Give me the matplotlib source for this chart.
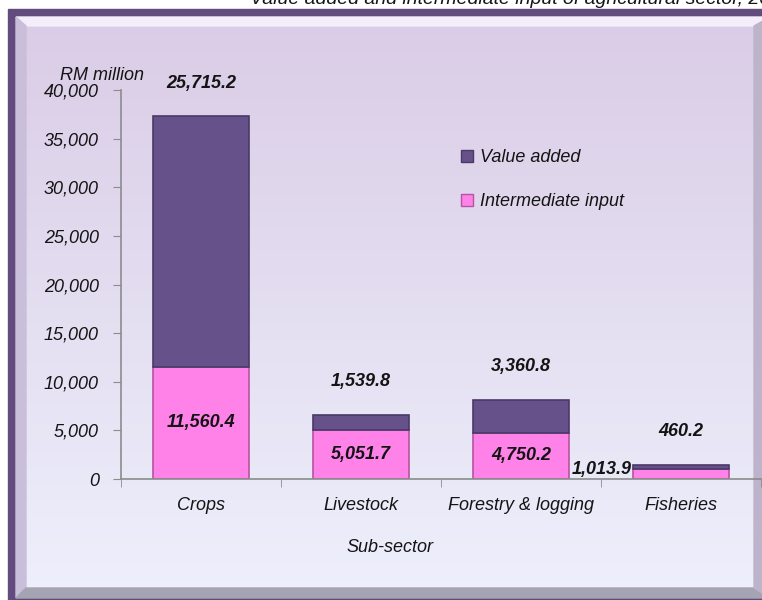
import numpy as np
import matplotlib.pyplot as plt
from matplotlib.patches import Rectangle, Polygon
from matplotlib.lines import Line2D

categories = ['Crops', 'Livestock', 'Forestry & logging', 'Fisheries']
intermediate_input = [11560.4, 5051.7, 4750.2, 1013.9]
value_added = [25715.2, 1539.8, 3360.8, 460.2]
y_ticks = [0, 5000, 10000, 15000, 20000, 25000, 30000, 35000, 40000]
series_names = ['Value added', 'Intermediate input']
title = 'Value added and intermediate input of agricultural sector, 2010'

W, H = 762, 600
VA_COLOR = '#67518A'
VA_EDGE = '#4A3A66'
II_COLOR = '#FF82E9'
II_EDGE = '#B4559F'
FRAME = '#614C7D'
TEXT = '#141414'

plt.rcParams['font.family'] = ['Liberation Sans', 'DejaVu Sans']
plt.rcParams['font.style'] = 'italic'


def main():
    fig = plt.figure(figsize=(W / 100, H / 100), dpi=100)
    draw_background(fig)
    ax = fig.add_axes([121 / W, 121 / H, 640 / W, 389 / H], facecolor='none')
    draw_bars(ax)
    style_axes(ax)

    handles = [Line2D([], [], marker='s', ls='', markersize=8, markerfacecolor=VA_COLOR, markeredgecolor=VA_EDGE),
               Line2D([], [], marker='s', ls='', markersize=8, markerfacecolor=II_COLOR, markeredgecolor=II_EDGE)]
    fig.legend(handles, series_names, loc='upper left', bbox_to_anchor=(442 / W, 1 - 133 / H), frameon=False,
               fontsize=13, labelspacing=1.5, handletextpad=0.2, handlelength=1.0, labelcolor=TEXT)

    fig.text(60 / W, 1 - 75 / H, 'RM million', fontsize=13, va='center', color=TEXT)
    fig.text(390 / W, 1 - 548 / H, 'Sub-sector', fontsize=13, ha='center', va='center', color=TEXT)

    fig.savefig('out.png', dpi=100)


def draw_background(fig):
    bg = fig.add_axes([0, 0, 1, 1])
    bg.set_xlim(0, W)
    bg.set_ylim(H, 0)
    bg.axis('off')

    # title sits above the crop, only its lower part shows
    bg.text(250, 4, title, fontsize=14, va='baseline', color=TEXT)

    bg.add_patch(Rectangle((8, 9), 800, 600, color=FRAME))
    top, bottom = np.array([0xDA, 0xCC, 0xE6]) / 255, np.array([0xEE, 0xF0, 0xFC]) / 255
    t = np.linspace(0, 1, 256)[:, None, None]
    grad = top * (1 - t) + bottom * t
    bg.imshow(grad, extent=(16, 770, 598, 17), aspect='auto', origin='upper', zorder=1)

    # bevel edges
    bg.add_patch(Polygon([(16, 17), (770, 17), (762, 26), (26, 26)], color='#F3EEF9', zorder=2))
    bg.add_patch(Polygon([(16, 17), (26, 26), (26, 588), (16, 598)], color='#C9BFDA', zorder=2))
    bg.add_patch(Polygon([(16, 598), (26, 588), (770, 588), (770, 598)], color='#A4A4B2', zorder=2))
    bg.add_patch(Polygon([(754, 26), (770, 17), (770, 598), (754, 588)], color='#BDB4CC', zorder=2))
    bg.set_xlim(0, W)
    bg.set_ylim(H, 0)


def draw_bars(ax):
    x = np.arange(len(categories))
    width = 0.6
    ax.bar(x, intermediate_input, width, color=II_COLOR, edgecolor=II_EDGE, linewidth=1.2)
    ax.bar(x, value_added, width, bottom=intermediate_input, color=VA_COLOR, edgecolor=VA_EDGE, linewidth=1.2)

    for i in x:
        ii = intermediate_input[i]
        total = ii + value_added[i]
        if ii > 3000:
            ax.text(i, ii / 2, f'{ii:,.1f}', ha='center', va='center', fontsize=13, fontweight='bold', color=TEXT)
        else:
            ax.annotate(f'{ii:,.1f}', (i - width / 2, 0), xytext=(-1, 1), textcoords='offset points',
                        ha='right', va='bottom', fontsize=13, fontweight='bold', color=TEXT)
        ax.annotate(f'{value_added[i]:,.1f}', (i, total), xytext=(0, 24), textcoords='offset points',
                    ha='center', va='center', fontsize=13, fontweight='bold', color=TEXT)


def style_axes(ax):
    ax.set_xlim(-0.5, len(categories) - 0.5)
    ax.set_ylim(0, 40000)
    ax.set_yticks(y_ticks)
    ax.set_yticklabels([f'{v:,}' for v in y_ticks])
    ax.set_xticks(np.arange(len(categories)))
    ax.set_xticklabels(categories)
    ax.set_xticks(np.arange(len(categories) + 1) - 0.5, minor=True)

    for side in ('top', 'right'):
        ax.spines[side].set_visible(False)
    for side in ('left', 'bottom'):
        ax.spines[side].set_color('#8C8C8C')
        ax.spines[side].set_linewidth(1.2)

    ax.tick_params(axis='y', length=6, color='#8C8C8C', pad=10, labelsize=13, labelcolor=TEXT)
    ax.tick_params(axis='x', which='major', length=0, pad=13, labelsize=13, labelcolor=TEXT)
    ax.tick_params(axis='x', which='minor', length=6, color='#8C8C8C')


if __name__ == '__main__':
    main()
